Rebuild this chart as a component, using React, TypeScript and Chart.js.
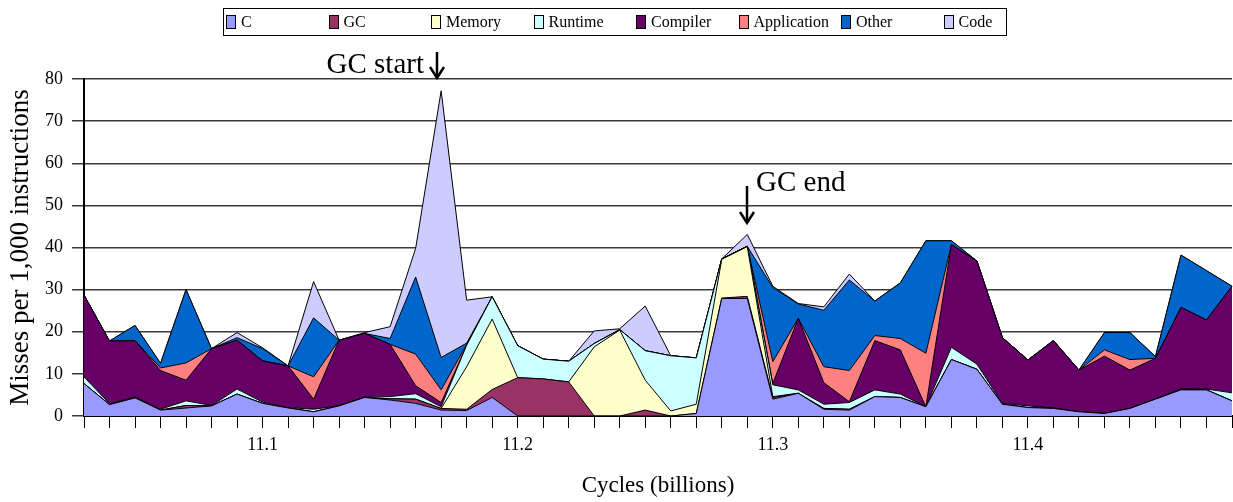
import React, { useEffect, useRef } from 'react';
import { Chart, registerables } from 'chart.js';

Chart.register(...registerables);

const cycles = [
  '11.03', '11.04', '11.05', '11.06', '11.07', '11.08', '11.09', '11.1', '11.11', '11.12',
  '11.13', '11.14', '11.15', '11.16', '11.17', '11.18', '11.19', '11.2', '11.21', '11.22',
  '11.23', '11.24', '11.25', '11.26', '11.27', '11.28', '11.29', '11.3', '11.31', '11.32',
  '11.33', '11.34', '11.35', '11.36', '11.37', '11.38', '11.39', '11.4', '11.41', '11.42',
  '11.43', '11.44', '11.45', '11.46', '11.47', '11.48',
];
const shownTickLabels = ['11.1', '11.2', '11.3', '11.4'];
const yTicks = [0, 10, 20, 30, 40, 50, 60, 70, 80];

const seriesNames = ['C', 'GC', 'Memory', 'Runtime', 'Compiler', 'Application', 'Other', 'Code'];
const seriesColors = ['#9999FF', '#993366', '#FFFFCC', '#CCFFFF', '#660066', '#FF8080', '#0066CC', '#CCCCFF'];

const cValues = [
  7.7, 2.7, 4.3, 1.4, 1.9, 2.4, 5.2, 3.0, 1.9, 1.0,
  2.4, 4.4, 3.8, 3.0, 1.4, 1.3, 4.4, 0, 0, 0,
  0, 0, 0, 0, 0.6, 27.9, 27.9, 4.0, 5.4, 1.6,
  1.4, 4.6, 4.4, 2.2, 13.4, 11.1, 2.8, 2.0, 1.8, 1.0,
  0.6, 1.8, 4.0, 6.2, 6.2, 3.6,
];
const gcValues = [
  0, 0, 0, 0, 0.6, 0, 0, 0, 0, 0,
  0, 0, 0.3, 1.0, 0.4, 0.3, 1.9, 9.1, 8.8, 8.1,
  0, 0, 1.4, 0, 0, 0.1, 0.5, 0.4, 0, 0.2,
  0.2, 0, 0, 0, 0, 0, 0, 0, 0, 0,
  0, 0, 0, 0.2, 0, 0,
];
const memoryValues = [
  0, 0, 0, 0, 0, 0, 0, 0, 0, 0,
  0, 0, 0, 0, 0, 10.1, 16.7, 0, 0, 0,
  16.4, 20.4, 7.1, 1.2, 2.2, 9.2, 11.8, 0.2, 0, 0,
  0, 0, 0, 0, 0, 0, 0, 0, 0, 0,
  0, 0, 0, 0, 0, 0,
];
const runtimeValues = [
  1.6, 0.2, 0.2, 0.2, 1.1, 0.1, 1.2, 0.3, 0.1, 0.6,
  0, 0.1, 0.5, 1.3, 0.4, 5.1, 5.3, 7.6, 4.7, 4.9,
  0.8, 0.1, 7.0, 13.1, 11.0, 0.1, 0.1, 2.8, 0.8, 1.0,
  1.6, 1.6, 0.8, 0, 2.9, 1.2, 0.2, 0.4, 0.1, 0,
  0, 0, 0, 0, 0.2, 1.9,
];
const compilerValues = [
  19.4, 14.9, 13.4, 9.2, 4.9, 13.5, 11.6, 9.8, 9.9, 2.4,
  15.6, 15.1, 12.4, 1.9, 1.0, 0, 0, 0, 0, 0,
  0, 0, 0, 0, 0, 0, 0, 0.3, 17.0, 5.1,
  0.2, 11.7, 10.5, 0, 24.4, 24.5, 15.6, 10.9, 16.0, 9.9,
  13.6, 9.1, 9.7, 19.4, 16.4, 25.3,
];
const applicationValues = [
  0, 0, 0, 0.6, 4.1, 0, 0, 0, 0, 5.3,
  0, 0, 0, 7.5, 3.0, 0.2, 0, 0, 0, 0,
  0, 0, 0, 0, 0, 0, 0, 5.2, 0, 3.8,
  7.4, 1.2, 2.7, 12.7, 0, 0, 0, 0, 0, 0,
  1.5, 2.5, 0, 0, 0, 0,
];
const otherValues = [
  0, 0, 3.6, 1.1, 17.4, 0, 0.6, 2.9, 0, 14.0,
  0, 0, 1.4, 18.3, 7.7, 0.3, 0, 0, 0, 0,
  0, 0, 0, 0, 0, 0, 0, 17.6, 3.4, 13.4,
  21.5, 8.2, 13.2, 26.7, 0.9, 0, 0, 0, 0, 0,
  4.1, 6.4, 0.4, 12.4, 11.7, 0,
];
const codeValues = [
  0, 0, 0, 0, 0, 0, 1.2, 0.2, 0, 8.6,
  0, 0.2, 2.8, 6.8, 63.3, 10.2, 0, 0, 0, 0,
  3.0, 0.2, 10.6, 0, 0, 0, 2.8, 0.3, 0.1, 0.8,
  1.4, 0, 0, 0, 0, 0, 0, 0, 0, 0,
  0, 0, 0, 0, 0, 0,
];

const seriesValues = [
  cValues, gcValues, memoryValues, runtimeValues,
  compilerValues, applicationValues, otherValues, codeValues,
];

const FONT = '"Liberation Serif", "Times New Roman", serif';

const annotationPlugin = {
  id: 'gcAnnotations',
  afterDraw(chart: any) {
    const { ctx, scales } = chart;
    const x = scales.x;
    const items = [
      { text: 'GC start', index: 14, dx: -4, topPx: 52, bottomPx: 78, textY: 65, side: 'left' },
      { text: 'GC end', index: 26, dx: 0, topPx: 186, bottomPx: 223, textY: 183, side: 'right' },
    ];
    ctx.save();
    items.forEach((it) => {
      const px = Math.round(x.getPixelForValue(it.index)) + it.dx;
      ctx.strokeStyle = '#000';
      ctx.lineWidth = 2.5;
      ctx.beginPath();
      ctx.moveTo(px, it.topPx);
      ctx.lineTo(px, it.bottomPx);
      ctx.stroke();
      ctx.beginPath();
      ctx.moveTo(px - 7, it.bottomPx - 11);
      ctx.lineTo(px, it.bottomPx);
      ctx.lineTo(px + 7, it.bottomPx - 11);
      ctx.stroke();
      ctx.fillStyle = '#000';
      ctx.font = `29px ${FONT}`;
      ctx.textBaseline = 'middle';
      if (it.side === 'left') {
        ctx.textAlign = 'right';
        ctx.fillText(it.text, px - 13, it.textY);
      } else {
        ctx.textAlign = 'left';
        ctx.fillText(it.text, px + 9, it.textY);
      }
    });
    ctx.restore();
  },
};

export default function App() {
  const canvasRef = useRef<HTMLCanvasElement | null>(null);

  useEffect(() => {
    if (!canvasRef.current) return;
    const datasets = seriesNames.map((name, i) => ({
      label: name,
      data: seriesValues[i],
      backgroundColor: seriesColors[i],
      borderColor: '#000',
      borderWidth: 1,
      pointRadius: 0,
      pointHoverRadius: 0,
      tension: 0,
      fill: i === 0 ? 'origin' : '-1',
    }));
    const chart = new Chart(canvasRef.current, {
      type: 'line',
      data: { labels: cycles, datasets },
      plugins: [annotationPlugin],
      options: {
        animation: false,
        responsive: false,
        events: [],
        layout: { padding: { top: 79, right: 1, bottom: 0, left: 0 } },
        plugins: {
          legend: { display: false },
          tooltip: { enabled: false },
        },
        scales: {
          x: {
            type: 'category',
            offset: false,
            grid: {
              display: true,
              drawOnChartArea: false,
              drawTicks: true,
              tickLength: 12,
              color: '#000',
              lineWidth: 1,
            },
            border: { display: true, color: '#000', width: 2 },
            ticks: {
              autoSkip: false,
              maxRotation: 0,
              minRotation: 0,
              padding: 6,
              color: '#000',
              font: { family: FONT, size: 18 },
              callback: (_v: any, idx: number) =>
                shownTickLabels.includes(cycles[idx]) ? cycles[idx] : '',
            },
            title: {
              display: true,
              text: 'Cycles (billions)',
              color: '#000',
              font: { family: FONT, size: 23 },
              padding: { top: 0, bottom: 2 },
            },
            afterFit: (s: any) => { s.height = 86; s.paddingLeft = 0; s.paddingRight = 0; },
          },
          y: {
            stacked: true,
            min: 0,
            max: 80,
            afterBuildTicks: (s: any) => { s.ticks = yTicks.map((v) => ({ value: v })); },
            grid: {
              display: true,
              drawOnChartArea: true,
              drawTicks: true,
              tickLength: 12,
              color: '#3a3a3a',
              lineWidth: 1.5,
            },
            border: { display: true, color: '#000', width: 2 },
            ticks: {
              padding: 9,
              color: '#000',
              font: { family: FONT, size: 18 },
            },
            title: {
              display: true,
              text: 'Misses per 1,000 instructions',
              color: '#000',
              font: { family: FONT, size: 27 },
              padding: { top: 5, bottom: 0 },
            },
            afterFit: (s: any) => { s.width = 84; s.paddingTop = 0; s.paddingBottom = 0; },
          },
        },
      },
    });
    return () => chart.destroy();
  }, []);

  return (
    <div style={{ position: 'fixed', left: 0, top: 0, width: 1233, height: 502, background: '#fff' }}>
      <canvas ref={canvasRef} width={1233} height={502} style={{ display: 'block' }} />
      <div
        style={{
          position: 'absolute', left: 223, top: 8, width: 784, height: 28,
          border: '1px solid #000', boxSizing: 'border-box', fontFamily: FONT, fontSize: 16, color: '#000',
        }}
      >
        {seriesNames.map((name, i) => (
          <div
            key={name}
            style={{ position: 'absolute', left: 2 + 102.5 * i, top: 5, height: 16, display: 'flex', alignItems: 'center' }}
          >
            <span
              style={{
                display: 'inline-block', width: 10, height: 14, background: seriesColors[i],
                border: '1px solid #000', boxSizing: 'border-box',
              }}
            />
            <span style={{ marginLeft: 5, lineHeight: '16px' }}>{name}</span>
          </div>
        ))}
      </div>
    </div>
  );
}
